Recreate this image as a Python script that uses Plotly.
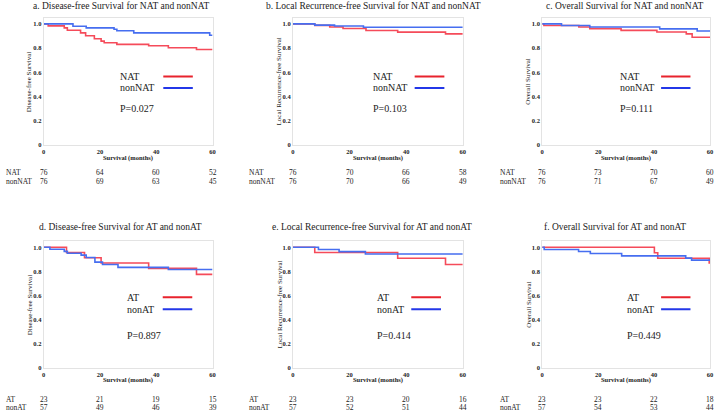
import plotly.graph_objects as go

W, H = 719, 415

# ---------------- data ----------------
titles = [
    "a. Disease-free Survival for NAT and nonNAT",
    "b. Local Recurrence-free Survival for NAT and nonNAT",
    "c. Overall Survival for NAT and nonNAT",
    "d. Disease-free Survival for AT and nonAT",
    "e. Local Recurrence-free Survival for AT and nonAT",
    "f. Overall Survival for AT and nonAT",
]
ytitles = ["Disease-free Survival", "Local Recurrence-free Survival", "Overall Survival",
           "Disease-free Survival", "Local Recurrence-free Survival", "Overall Survival"]
group_names = [("NAT", "nonNAT")] * 3 + [("AT", "nonAT")] * 3
p_values = ["P=0.027", "P=0.103", "P=0.111", "P=0.897", "P=0.414", "P=0.449"]

a_g1_t = [0, 1.6, 7.3, 8.4, 13.1, 14.9, 18.0, 20.4, 21.5, 26.0, 37.3, 44.3, 54.3, 60]
a_g1_s = [1.0, 0.984, 0.967, 0.948, 0.926, 0.902, 0.877, 0.858, 0.844, 0.831, 0.820, 0.803, 0.789, 0.789]
a_g2_t = [0, 10.4, 15.1, 25.0, 26.0, 32.0, 59.0, 60]
a_g2_s = [1.0, 0.981, 0.967, 0.956, 0.943, 0.926, 0.907, 0.907]

b_g1_t = [0, 7.7, 13.0, 17.7, 25.8, 37.0, 53.9, 60]
b_g1_s = [1.0, 0.988, 0.975, 0.962, 0.946, 0.932, 0.918, 0.918]
b_g2_t = [0, 7.7, 14.7, 24.9, 60]
b_g2_s = [1.0, 0.99, 0.983, 0.972, 0.972]

c_g1_t = [0, 0.6, 13.1, 17.0, 28.2, 41.0, 51.5, 53.6, 60]
c_g1_s = [1.0, 0.987, 0.974, 0.961, 0.947, 0.933, 0.918, 0.89, 0.89]
c_g2_t = [0, 6.9, 17.0, 42.0, 55.4, 60]
c_g2_s = [1.0, 0.987, 0.974, 0.959, 0.942, 0.942]

d_g1_t = [0, 8.1, 14.5, 20.4, 37.3, 54.3, 60]
d_g1_s = [1.0, 0.957, 0.913, 0.870, 0.825, 0.775, 0.775]
d_g2_t = [0, 2.2, 7.3, 8.4, 13.3, 15.1, 18.2, 20.9, 26.4, 44.3, 60]
d_g2_s = [1.0, 0.983, 0.966, 0.95, 0.935, 0.915, 0.877, 0.857, 0.833, 0.816, 0.816]

e_g1_t = [0, 7.7, 37.0, 53.9, 60]
e_g1_s = [1.0, 0.957, 0.909, 0.857, 0.857]
e_g2_t = [0, 9.0, 16.3, 25.6, 60]
e_g2_s = [1.0, 0.982, 0.964, 0.944, 0.944]

f_g1_t = [0, 40.1, 41.3, 59.7, 60]
f_g1_s = [1.0, 0.955, 0.909, 0.87, 0.87]
f_g2_t = [0, 0.7, 13.0, 17.2, 28.4, 51.3, 53.4, 60]
f_g2_s = [1.0, 0.982, 0.965, 0.948, 0.929, 0.91, 0.893, 0.893]

curves = [
    (a_g1_t, a_g1_s, a_g2_t, a_g2_s),
    (b_g1_t, b_g1_s, b_g2_t, b_g2_s),
    (c_g1_t, c_g1_s, c_g2_t, c_g2_s),
    (d_g1_t, d_g1_s, d_g2_t, d_g2_s),
    (e_g1_t, e_g1_s, e_g2_t, e_g2_s),
    (f_g1_t, f_g1_s, f_g2_t, f_g2_s),
]

risk_times = [0, 20, 40, 60]
a_risk1 = [76, 64, 60, 52]; a_risk2 = [76, 69, 63, 45]
b_risk1 = [76, 70, 66, 58]; b_risk2 = [76, 70, 66, 49]
c_risk1 = [76, 73, 70, 60]; c_risk2 = [76, 71, 67, 49]
d_risk1 = [23, 21, 19, 15]; d_risk2 = [57, 49, 46, 39]
e_risk1 = [23, 23, 20, 16]; e_risk2 = [57, 52, 51, 44]
f_risk1 = [23, 23, 22, 18]; f_risk2 = [57, 54, 53, 44]
risks = [(a_risk1, a_risk2), (b_risk1, b_risk2), (c_risk1, c_risk2),
         (d_risk1, d_risk2), (e_risk1, e_risk2), (f_risk1, f_risk2)]

y_ticks = [0, 0.2, 0.4, 0.6, 0.8, 1.0]
y_ticklabels = ["0", "0.2", "0.4", "0.6", "0.8", "1.0"]
x_ticks = [0, 20, 40, 60]

# ---------------- layout geometry (pixels) ----------------
panel_x = [(42, 212), (293, 464), (544, 713)] * 2
row_y = [(18, 146)] * 3 + [(243, 370.5)] * 3     # top px, bottom px of plot area (y range 0..1.05)
title_cx = [120, 374, 627, 119, 373, 617]
title_y = [6, 6, 6, 229, 229, 229]
label_x = [2, 247, 499, 2, 247, 499]
risk_y = [(174, 183)] * 3 + [(402, 410)] * 3
xtitle_y = [159, 159, 159, 383, 383, 383]
leg_y = [(0.566, 0.471, 0.303)] * 3 + [(0.585, 0.485, 0.27)] * 3
leg_tx = [26.5, 27.5, 27.0, 29.0, 29.0, 29.5]
leg_l0 = [42.5, 43.0, 42.5, 42.3, 41.8, 42.5]

RED = "rgb(245,75,90)"
BLUE = "rgb(70,110,240)"
RED_L = "rgb(232,35,45)"
BLUE_L = "rgb(35,55,232)"
FONT = "Liberation Serif"
TXT = "#222"

def px(x):
    return x / W

def py(y):
    return 1 - y / H

fig = go.Figure()
annotations = []

for i in range(6):
    n = i + 1
    xa = "x" if n == 1 else f"x{n}"
    ya = "y" if n == 1 else f"y{n}"
    xkey = "xaxis" if n == 1 else f"xaxis{n}"
    ykey = "yaxis" if n == 1 else f"yaxis{n}"
    x0, x1 = panel_x[i]
    yt, yb = row_y[i]
    common = dict(showline=True, mirror=True, linecolor="#e3e3e3", linewidth=1,
                  showgrid=False, zeroline=False, ticks="",
                  tickfont=dict(family=FONT, size=6.5, color=TXT, weight="bold"))
    fig.update_layout(**{
        xkey: dict(domain=[px(x0), px(x1)], range=[0, 60], anchor=ya,
                   tickvals=x_ticks, ticklen=0, **common),
        ykey: dict(domain=[py(yb), py(yt)], range=[0, 1.05], anchor=xa,
                   tickvals=y_ticks, ticktext=y_ticklabels, **common),
    })
    t1, s1, t2, s2 = curves[i]
    fig.add_trace(go.Scatter(x=t1, y=s1, mode="lines", line=dict(color=RED, width=1.6, shape="hv"),
                             xaxis=xa, yaxis=ya, showlegend=False, hoverinfo="skip"))
    fig.add_trace(go.Scatter(x=t2, y=s2, mode="lines", line=dict(color=BLUE, width=1.6, shape="hv"),
                             xaxis=xa, yaxis=ya, showlegend=False, hoverinfo="skip"))
    # legend inside plot
    g1, g2 = group_names[i]
    ly1, ly2, lyp = leg_y[i]
    l0 = leg_l0[i]
    fig.add_trace(go.Scatter(x=[l0, l0 + 10.5], y=[ly1, ly1], mode="lines",
                             line=dict(color=RED_L, width=2), xaxis=xa, yaxis=ya,
                             showlegend=False, hoverinfo="skip"))
    fig.add_trace(go.Scatter(x=[l0, l0 + 10.5], y=[ly2, ly2], mode="lines",
                             line=dict(color=BLUE_L, width=2), xaxis=xa, yaxis=ya,
                             showlegend=False, hoverinfo="skip"))
    for txt, yy in [(g1, ly1), (g2, ly2), (p_values[i], lyp)]:
        annotations.append(dict(x=leg_tx[i], y=yy, xref=xa, yref=ya, text=txt, showarrow=False,
                                xanchor="left", yanchor="middle",
                                font=dict(family=FONT, size=10, color=TXT)))
    # title
    annotations.append(dict(x=px(title_cx[i]), y=py(title_y[i]), xref="paper", yref="paper",
                            text=titles[i], showarrow=False, xanchor="center", yanchor="middle",
                            font=dict(family=FONT, size=9.5, color=TXT)))
    # y title
    annotations.append(dict(x=px(x0 - 14), y=py((yt + yb) / 2), xref="paper", yref="paper",
                            text=ytitles[i], textangle=-90, showarrow=False,
                            xanchor="center", yanchor="middle",
                            font=dict(family=FONT, size=7, color=TXT)))
    # x title
    annotations.append(dict(x=px((x0 + x1) / 2), y=py(xtitle_y[i]), xref="paper", yref="paper",
                            text="<b>Survival (months)</b>", showarrow=False,
                            xanchor="center", yanchor="middle",
                            font=dict(family=FONT, size=6.5, color=TXT)))
    # risk table
    r1, r2 = risks[i]
    ry1, ry2 = risk_y[i]
    for name, vals, ry in [(g1, r1, ry1), (g2, r2, ry2)]:
        annotations.append(dict(x=px(label_x[i]), y=py(ry), xref="paper", yref="paper",
                                text=name, showarrow=False, xanchor="left", yanchor="middle",
                                font=dict(family=FONT, size=7.5, color=TXT)))
        for tt, v in zip(risk_times, vals):
            annotations.append(dict(x=tt, y=py(ry), xref=xa, yref="paper",
                                    text=str(v), showarrow=False, xanchor="center", yanchor="middle",
                                    font=dict(family=FONT, size=7.5, color=TXT)))

fig.update_layout(width=W, height=H, margin=dict(l=0, r=0, t=0, b=0),
                  paper_bgcolor="white", plot_bgcolor="white",
                  annotations=annotations, showlegend=False)

fig.write_html("out.html", config={"displayModeBar": False},
               post_script="document.body.style.margin='0';document.body.style.overflow='hidden';")
